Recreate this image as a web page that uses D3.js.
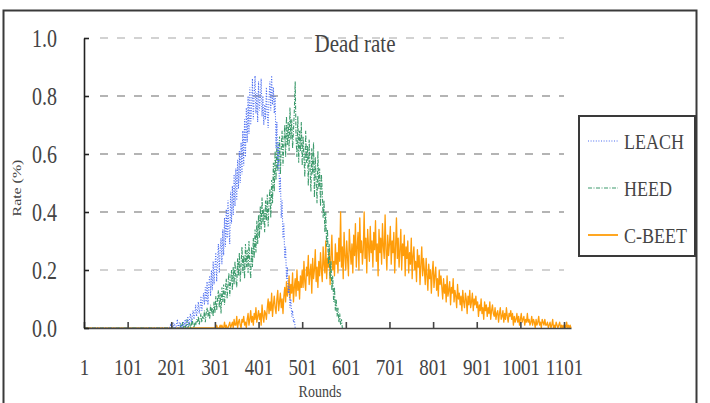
<!DOCTYPE html>
<html>
<head>
<meta charset="utf-8">
<script src="https://cdn.jsdelivr.net/npm/d3@7"></script>
<style>
  body { margin: 0; background: #fff; }
  svg text { font-family: "Liberation Serif", "Times New Roman", serif; fill: #444; }
</style>
</head>
<body>
<div id="chart"></div>
<script>
// data, one value every 2 rounds
const roundStep = 2;
const lastRound = 1117;
const xTickLabels = [1, 101, 201, 301, 401, 501, 601, 701, 801, 901, 1001, 1101];
const yTicks = [0, 0.2, 0.4, 0.6, 0.8, 1.0];
const seriesNames = ["LEACH", "HEED", "C-BEET"];

const leachStart = 197;
const leach = [
  0.00, 0.01, 0.00, 0.00, 0.02, 0.00, 0.01, 0.00, 0.01, 0.03, 0.00, 0.01, 0.02, 0.00, 0.01, 0.00, 0.02, 0.01, 0.03, 0.00,
  0.02, 0.04, 0.01, 0.03, 0.05, 0.02, 0.04, 0.06, 0.03, 0.05, 0.08, 0.04, 0.06, 0.09, 0.05, 0.07, 0.11, 0.06, 0.09, 0.12,
  0.08, 0.14, 0.09, 0.16, 0.08, 0.15, 0.18, 0.11, 0.20, 0.13, 0.23, 0.15, 0.21, 0.26, 0.16, 0.23, 0.29, 0.19, 0.27, 0.31,
  0.22, 0.34, 0.25, 0.38, 0.28, 0.41, 0.31, 0.44, 0.34, 0.29, 0.47, 0.36, 0.49, 0.39, 0.53, 0.42, 0.55, 0.44, 0.58, 0.48,
  0.61, 0.50, 0.64, 0.53, 0.68, 0.56, 0.72, 0.59, 0.76, 0.64, 0.80, 0.67, 0.83, 0.70, 0.76, 0.86, 0.72, 0.80, 0.87, 0.74,
  0.81, 0.71, 0.85, 0.75, 0.79, 0.86, 0.73, 0.80, 0.70, 0.77, 0.72, 0.83, 0.74, 0.69, 0.79, 0.85, 0.75, 0.87, 0.77, 0.83,
  0.74, 0.80, 0.62, 0.71, 0.55, 0.64, 0.47, 0.52, 0.38, 0.44, 0.31, 0.36, 0.24, 0.28, 0.17, 0.21, 0.12, 0.15, 0.07, 0.10,
  0.04, 0.06, 0.02, 0.03, 0.00];

const heedStart = 221;
const heed = [
  0.00, 0.01, 0.00, 0.02, 0.00, 0.01, 0.00, 0.01, 0.03, 0.00, 0.01, 0.02, 0.00, 0.01, 0.03, 0.01, 0.00, 0.02, 0.01, 0.03,
  0.02, 0.04, 0.01, 0.03, 0.05, 0.02, 0.04, 0.03, 0.06, 0.02, 0.05, 0.07, 0.04, 0.06, 0.03, 0.08, 0.05, 0.07, 0.04, 0.09,
  0.05, 0.11, 0.06, 0.10, 0.13, 0.07, 0.12, 0.05, 0.14, 0.09, 0.15, 0.08, 0.13, 0.17, 0.10, 0.15, 0.19, 0.11, 0.16, 0.20,
  0.13, 0.21, 0.15, 0.23, 0.17, 0.14, 0.24, 0.18, 0.26, 0.16, 0.22, 0.28, 0.19, 0.25, 0.17, 0.29, 0.21, 0.27, 0.19, 0.30,
  0.22, 0.17, 0.28, 0.21, 0.31, 0.24, 0.34, 0.26, 0.37, 0.29, 0.39, 0.31, 0.42, 0.34, 0.45, 0.36, 0.41, 0.33, 0.44, 0.37,
  0.46, 0.35, 0.43, 0.48, 0.38, 0.51, 0.43, 0.57, 0.47, 0.61, 0.51, 0.64, 0.54, 0.58, 0.66, 0.53, 0.62, 0.68, 0.56, 0.64,
  0.70, 0.59, 0.73, 0.63, 0.71, 0.61, 0.76, 0.65, 0.72, 0.62, 0.68, 0.75, 0.85, 0.65, 0.59, 0.73, 0.57, 0.68, 0.61, 0.71,
  0.56, 0.66, 0.59, 0.52, 0.68, 0.57, 0.63, 0.49, 0.65, 0.55, 0.47, 0.62, 0.53, 0.64, 0.45, 0.59, 0.51, 0.43, 0.61, 0.48,
  0.55, 0.42, 0.53, 0.47, 0.38, 0.44, 0.33, 0.40, 0.28, 0.34, 0.22, 0.29, 0.17, 0.23, 0.13, 0.18, 0.09, 0.14, 0.06, 0.10,
  0.04, 0.07, 0.02, 0.05, 0.01, 0.03, 0.00];

const cbeetStart = 301;
const cbeet = [
  0.00, 0.00, 0.01, 0.00, 0.00, 0.00, 0.01, 0.00, 0.01, 0.00, 0.00, 0.02, 0.00, 0.01, 0.00, 0.00, 0.01, 0.02, 0.00, 0.01,
  0.02, 0.00, 0.03, 0.01, 0.01, 0.04, 0.00, 0.02, 0.03, 0.01, 0.00, 0.03, 0.02, 0.04, 0.01, 0.02, 0.00, 0.03, 0.05, 0.01,
  0.03, 0.06, 0.02, 0.04, 0.01, 0.05, 0.03, 0.07, 0.02, 0.04, 0.06, 0.03, 0.05, 0.01, 0.08, 0.04, 0.02, 0.06, 0.05, 0.03,
  0.07, 0.10, 0.05, 0.09, 0.06, 0.12, 0.04, 0.08, 0.11, 0.07, 0.05, 0.10, 0.13, 0.06, 0.09, 0.12, 0.07, 0.10, 0.05, 0.11,
  0.14, 0.09, 0.16, 0.11, 0.13, 0.18, 0.10, 0.15, 0.12, 0.19, 0.09, 0.14, 0.17, 0.11, 0.20, 0.13, 0.16, 0.10, 0.18, 0.14,
  0.20, 0.14, 0.23, 0.16, 0.13, 0.21, 0.18, 0.25, 0.15, 0.19, 0.22, 0.12, 0.24, 0.17, 0.20, 0.27, 0.16, 0.21, 0.14, 0.23,
  0.18, 0.26, 0.20, 0.16, 0.28, 0.22, 0.19, 0.30, 0.17, 0.24, 0.21, 0.27, 0.15, 0.25, 0.32, 0.20, 0.23, 0.18, 0.29, 0.22,
  0.26, 0.19, 0.31, 0.23, 0.40, 0.21, 0.28, 0.17, 0.33, 0.25, 0.20, 0.30, 0.24, 0.18, 0.34, 0.27, 0.22, 0.29, 0.19, 0.32,
  0.25, 0.36, 0.21, 0.28, 0.33, 0.20, 0.38, 0.26, 0.30, 0.22, 0.27, 0.40, 0.24, 0.31, 0.19, 0.34, 0.28, 0.23, 0.35, 0.26,
  0.30, 0.21, 0.33, 0.27, 0.37, 0.23, 0.29, 0.18, 0.34, 0.26, 0.31, 0.22, 0.36, 0.28, 0.24, 0.39, 0.27, 0.20, 0.32, 0.25,
  0.29, 0.35, 0.22, 0.30, 0.26, 0.33, 0.19, 0.28, 0.38, 0.24, 0.31, 0.21, 0.27, 0.34, 0.20, 0.29, 0.25, 0.32, 0.18, 0.28,
  0.24, 0.30, 0.19, 0.26, 0.22, 0.31, 0.17, 0.25, 0.28, 0.20, 0.23, 0.16, 0.27, 0.21, 0.25, 0.15, 0.22, 0.28, 0.18, 0.24,
  0.20, 0.15, 0.24, 0.18, 0.13, 0.22, 0.17, 0.20, 0.12, 0.19, 0.23, 0.14, 0.18, 0.21, 0.13, 0.17, 0.11, 0.20, 0.15, 0.18,
  0.14, 0.10, 0.17, 0.12, 0.15, 0.09, 0.18, 0.11, 0.13, 0.16, 0.08, 0.14, 0.12, 0.17, 0.09, 0.13, 0.11, 0.07, 0.15, 0.10,
  0.12, 0.08, 0.11, 0.06, 0.13, 0.09, 0.07, 0.12, 0.10, 0.05, 0.11, 0.08, 0.13, 0.07, 0.09, 0.12, 0.06, 0.10, 0.08, 0.11,
  0.07, 0.09, 0.04, 0.08, 0.06, 0.10, 0.05, 0.07, 0.03, 0.09, 0.06, 0.08, 0.04, 0.07, 0.05, 0.09, 0.03, 0.06, 0.08, 0.05,
  0.04, 0.07, 0.03, 0.05, 0.06, 0.02, 0.05, 0.07, 0.03, 0.04, 0.06, 0.02, 0.05, 0.03, 0.07, 0.04, 0.02, 0.05, 0.04, 0.06,
  0.03, 0.05, 0.01, 0.04, 0.02, 0.03, 0.05, 0.02, 0.04, 0.01, 0.03, 0.05, 0.02, 0.03, 0.04, 0.01, 0.03, 0.02, 0.05, 0.02,
  0.03, 0.01, 0.02, 0.04, 0.01, 0.03, 0.02, 0.00, 0.03, 0.01, 0.02, 0.04, 0.01, 0.02, 0.00, 0.03, 0.02, 0.01, 0.03, 0.01,
  0.01, 0.02, 0.00, 0.01, 0.02, 0.00, 0.01, 0.03, 0.00, 0.01, 0.00, 0.02, 0.01, 0.00, 0.01, 0.02, 0.00, 0.01, 0.00, 0.01,
  0.00, 0.01, 0.00, 0.02, 0.00, 0.01, 0.00, 0.01, 0.00];

const width = 710, height = 403;
const stretch = 1.22; // the original text is drawn tall and narrow
const font = '"Liberation Serif", "Times New Roman", serif';

const svg = d3.select("#chart").append("svg")
  .attr("width", width)
  .attr("height", height);

// outer frame
svg.append("rect")
  .attr("x", 3.5).attr("y", 10.5)
  .attr("width", 693).attr("height", 410)
  .attr("fill", "none")
  .attr("stroke", "#3a3a3a")
  .attr("stroke-width", 2);

const x = d3.scaleLinear().domain([1, lastRound]).range([84, 571]);
const y = d3.scaleLinear().domain([0, 1]).range([328, 38]);

function toPoints(start, values) {
  const pts = [{ r: 1, v: 0 }];
  values.forEach((v, i) => pts.push({ r: start + i * roundStep, v: v }));
  return pts;
}

// gridlines
svg.append("g")
  .selectAll("line")
  .data(yTicks.filter(d => d > 0))
  .enter().append("line")
  .attr("x1", 100).attr("x2", 564)
  .attr("y1", d => y(d)).attr("y2", d => y(d))
  .attr("stroke", d => (d === 0.2 || d === 1.0) ? "#c4c4c4" : "#9c9c9c")
  .attr("stroke-width", 1.3)
  .attr("stroke-dasharray", "8,9");

// series lines
const line = d3.line().x(d => x(d.r)).y(d => y(d.v));

svg.append("path")
  .datum(toPoints(cbeetStart, cbeet))
  .attr("d", line)
  .attr("fill", "none")
  .attr("stroke", "#ff9d0a")
  .attr("stroke-width", 1.3)
  .attr("stroke-linejoin", "round");

svg.append("path")
  .datum(toPoints(heedStart, heed))
  .attr("d", line)
  .attr("fill", "none")
  .attr("stroke", "#3c9a6c")
  .attr("stroke-width", 1.1)
  .attr("stroke-dasharray", "4,1.5,1,1.5");

svg.append("path")
  .datum(toPoints(leachStart, leach))
  .attr("d", line)
  .attr("fill", "none")
  .attr("stroke", "#4a6cf0")
  .attr("stroke-width", 1.1)
  .attr("stroke-dasharray", "1,1.6");

// axes
const xAxis = svg.append("g")
  .attr("transform", `translate(0,${y(0)})`)
  .call(d3.axisBottom(x).tickValues(xTickLabels).tickFormat(d3.format("d"))
    .tickSizeInner(-6).tickSizeOuter(0));
xAxis.select(".domain").attr("stroke", "#444").attr("stroke-width", 1.6);
xAxis.selectAll(".tick line").attr("stroke", "#444").attr("stroke-width", 1.6);
xAxis.selectAll(".tick text")
  .attr("y", null).attr("dy", "0.35em")
  .attr("transform", `translate(0,39) scale(1,${stretch})`)
  .attr("font-family", font)
  .attr("font-size", 19)
  .attr("fill", "#444");

const yAxis = svg.append("g")
  .attr("transform", `translate(${x(1)},0)`)
  .call(d3.axisLeft(y).tickValues(yTicks).tickFormat(d3.format(".1f"))
    .tickSizeInner(-5).tickSizeOuter(0));
yAxis.select(".domain").attr("stroke", "#222").attr("stroke-width", 1.6);
yAxis.selectAll(".tick line").attr("stroke", "#222").attr("stroke-width", 1.6);
yAxis.selectAll(".tick text")
  .attr("x", null).attr("dy", "0.35em")
  .attr("transform", `translate(-27,0) scale(1,${stretch})`)
  .attr("font-family", font)
  .attr("font-size", 20)
  .attr("fill", "#444");

// texts
svg.append("text")
  .attr("transform", `translate(355,43) scale(1,${stretch})`)
  .attr("text-anchor", "middle").attr("dy", "0.35em")
  .attr("font-size", 21)
  .text("Dead rate");

svg.append("text")
  .attr("transform", `translate(320,391) scale(1,${stretch})`)
  .attr("text-anchor", "middle").attr("dy", "0.35em")
  .attr("font-size", 14)
  .text("Rounds");

svg.append("text")
  .attr("transform", `translate(16,188) rotate(-90) scale(${stretch},1)`)
  .attr("text-anchor", "middle").attr("dy", "0.35em")
  .attr("font-size", 13)
  .text("Rate (%)");

// legend
const legendStyles = [
  { color: "#4a6cf0", dash: "1,1.6" },
  { color: "#3c9a6c", dash: "4,1.5,1,1.5" },
  { color: "#ff9d0a", dash: null }
];

const legend = svg.append("g").attr("transform", "translate(579,116)");
legend.append("rect")
  .attr("width", 116).attr("height", 140)
  .attr("fill", "#fff")
  .attr("stroke", "#3a3a3a")
  .attr("stroke-width", 2);

const item = legend.selectAll(".legend-item")
  .data(seriesNames)
  .enter().append("g")
  .attr("class", "legend-item")
  .attr("transform", (d, i) => `translate(0,${25 + i * 47})`);

item.append("line")
  .attr("x1", 9).attr("x2", 39)
  .attr("stroke", (d, i) => legendStyles[i].color)
  .attr("stroke-width", (d, i) => i === 2 ? 1.8 : 1.2)
  .attr("stroke-dasharray", (d, i) => legendStyles[i].dash);

item.append("text")
  .attr("transform", `translate(45,0) scale(1,${stretch})`)
  .attr("dy", "0.35em")
  .attr("font-size", 18)
  .text(d => d);
</script>
</body>
</html>
